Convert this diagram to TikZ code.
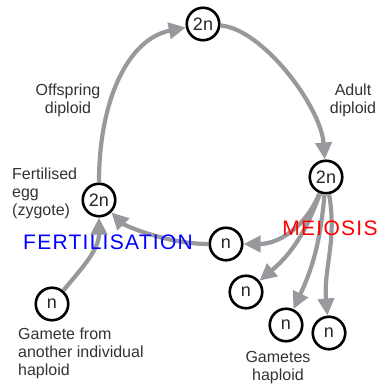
\documentclass[tikz,border=0pt]{standalone}
\usepackage{fontspec}
\setmainfont{Liberation Sans}
\usetikzlibrary{arrows.meta}
\definecolor{arrowgrey}{RGB}{152,153,157}
\definecolor{textgrey}{RGB}{51,51,51}

\begin{document}
\begin{tikzpicture}[x=1pt,y=1pt,
  ploidy/.style={circle,draw=black,fill=white,line width=2.6pt,minimum size=32.5pt,inner sep=0pt,
    text=black!85,font=\fontsize{18}{18}\selectfont},
  lifearrow/.style={draw=arrowgrey,line width=4.2pt,-{Triangle[length=17pt,width=16pt]}},
  caption/.style={text=textgrey,inner sep=0pt,font=\fontsize{16}{18}\selectfont},
  stage/.style={inner sep=0pt,font=\fontsize{21}{21}\selectfont\addfontfeature{LetterSpace=6}}]
\useasboundingbox (0,0) rectangle (388,387);

%Draw the circles
\node[ploidy] (top) at (203,363) {2n};
\node[ploidy] (adult) at (326,210) {2n};
\node[ploidy] (zygote) at (99,187) {2n};
\node[ploidy] (nmid) at (226,143) {n};
\node[ploidy] (nother) at (52,83) {n};
\node[ploidy] (ga) at (246,95) {n};
\node[ploidy] (gb) at (286,62) {n};
\node[ploidy] (gc) at (329,54) {n};

%Draw the cycle
\draw[lifearrow] (zygote) .. controls +(0,100) and +(-75,-15) .. (top);
\draw[lifearrow] (top) .. controls +(60,-5) and +(-5,70) .. (adult);
\draw[lifearrow] (nmid) .. controls +(-60,0) and +(25,-25) .. (zygote);
\draw[lifearrow] (nother) to[out=50,in=-90] (zygote);

%Draw meiosis fan
\draw[lifearrow] (adult) to[out=-112,in=0] (nmid);
\draw[lifearrow] (adult) to[out=-110,in=40] (ga);
\draw[lifearrow] (adult) to[out=-95,in=65] (gb);
\draw[lifearrow] (adult) to[out=-80,in=95] (gc);

%Draw labels
\node[caption,align=center] (offspring) at (68,287) {Offspring\\diploid};
\node[caption,align=center] (adultlab) at (353,287) {Adult\\diploid};
\node[caption,align=left,anchor=west] (egg) at (12,194) {Fertilised\\egg\\(zygote)};
\node[caption,align=left,anchor=west] (other) at (18,34) {Gamete from\\another individual\\haploid};
\node[caption,align=center] (gametes) at (278,19) {Gametes\\haploid};
\node[stage,text=blue] (fert) at (108,145) {FERTILISATION};
\node[stage,text=red] (meiosis) at (330,159) {MEIOSIS};
\end{tikzpicture}
\end{document}
